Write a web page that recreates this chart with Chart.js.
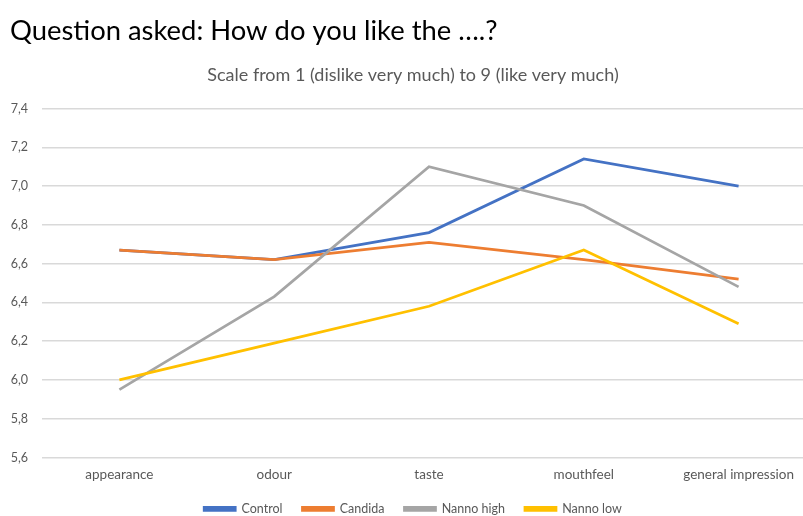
<!DOCTYPE html>
<html>
<head>
<meta charset="utf-8">
<script src="https://cdn.jsdelivr.net/npm/chart.js@4/dist/chart.umd.min.js"></script>
<style>
  html, body { margin: 0; padding: 0; background: #fff; overflow: hidden; }
  canvas { display: block; }
</style>
</head>
<body>
<canvas id="c" width="816" height="516" style="width:816px;height:516px"></canvas>
<script>
const categories = ["appearance", "odour", "taste", "mouthfeel", "general impression"];
const controlValues = [6.67, 6.62, 6.76, 7.14, 7.00];
const candidaValues = [6.67, 6.62, 6.71, 6.62, 6.52];
const nannoHighValues = [5.95, 6.43, 7.10, 6.90, 6.48];
const nannoLowValues = [6.00, 6.19, 6.38, 6.67, 6.29];
const seriesNames = ["Control", "Candida", "Nanno high", "Nanno low"];
const yMin = 5.6, yMax = 7.4, yStep = 0.2;

const colors = ["#4472C4", "#ED7D31", "#A5A5A5", "#FFC000"];
const seriesValues = [controlValues, candidaValues, nannoHighValues, nannoLowValues];
const FONT = 'Lato, Carlito, "Open Sans", sans-serif';

const datasets = seriesNames.map((name, i) => ({
  label: name,
  data: seriesValues[i],
  borderColor: colors[i],
  backgroundColor: colors[i],
  borderWidth: 2.75,
  pointRadius: 0,
  pointHoverRadius: 0,
  tension: 0,
  fill: false,
  order: seriesNames.length - i
}));

new Chart(document.getElementById('c'), {
  type: 'line',
  data: { labels: categories, datasets: datasets },
  options: {
    responsive: false,
    animation: false,
    devicePixelRatio: 1,
    layout: { padding: { left: 10, right: 0, top: 0, bottom: -9 } },
    plugins: {
      title: {
        display: true,
        text: "Question asked: How do you like the \u2026.?",
        align: 'start',
        color: '#000000',
        font: { family: FONT, size: 27.4, weight: 'normal' },
        padding: { top: 15, bottom: 8 }
      },
      subtitle: {
        display: true,
        text: "Scale from 1 (dislike very much) to 9 (like very much)",
        color: '#595959',
        font: { family: FONT, size: 18 },
        padding: { top: 9, bottom: 22 }
      },
      legend: {
        position: 'bottom',
        labels: {
          color: '#595959',
          font: { family: FONT, size: 12.5 },
          boxWidth: 31,
          boxHeight: 3,
          padding: 20,
          sort: (a, b) => a.datasetIndex - b.datasetIndex
        }
      },
      tooltip: { enabled: false }
    },
    scales: {
      x: {
        offset: true,
        grid: { display: false, drawTicks: false, offset: true },
        border: { display: false },
        ticks: {
          color: '#595959',
          font: { family: FONT, size: 13.5 },
          padding: 9,
          maxRotation: 0,
          autoSkip: false
        },
        afterFit: s => { s.height = 25; }
      },
      y: {
        min: yMin,
        max: yMax,
        grid: { color: '#D9D9D9', lineWidth: 1.5, drawTicks: false },
        border: { display: false },
        ticks: {
          stepSize: yStep,
          color: '#595959',
          font: { family: FONT, size: 12.5 },
          padding: 14,
          callback: v => v.toFixed(1).replace('.', ',')
        },
        afterFit: s => { s.width = 32; }
      }
    }
  }
});
</script>
</body>
</html>
